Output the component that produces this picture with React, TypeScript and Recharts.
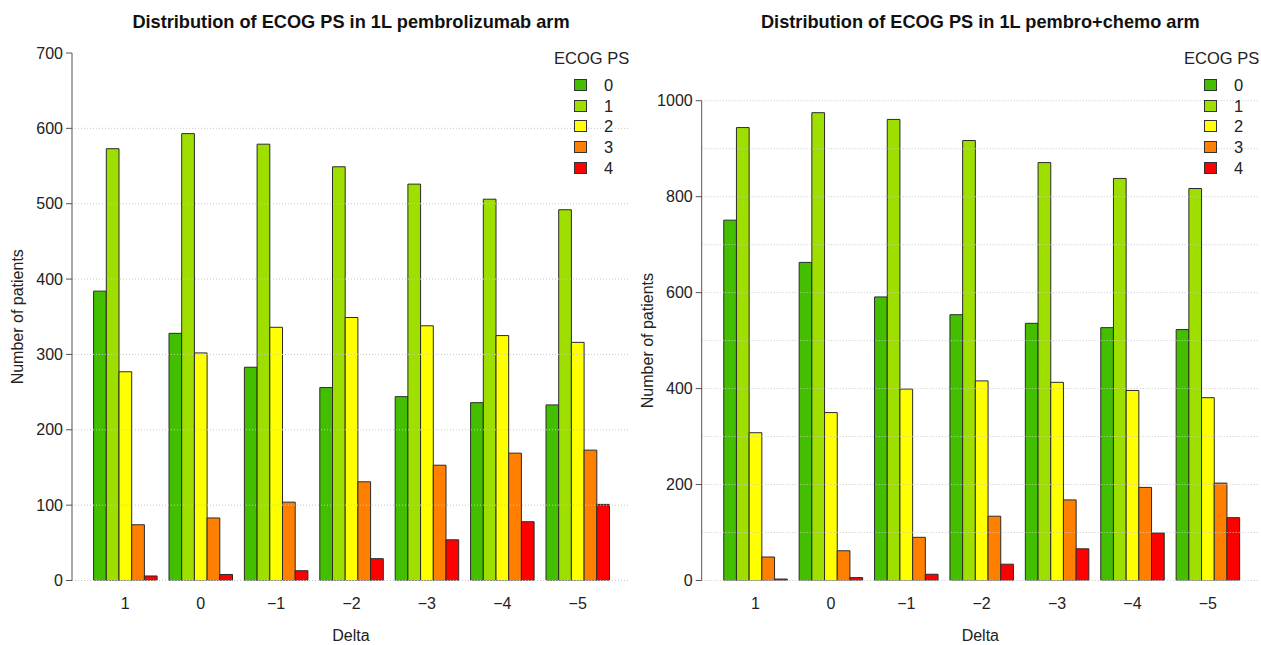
import React from 'react';
import { BarChart, Bar, XAxis, YAxis, ReferenceLine } from 'recharts';

// ---- data ----
const deltaLabels = ['1', '0', '\u22121', '\u22122', '\u22123', '\u22124', '\u22125'];
const ecogLevels = ['0', '1', '2', '3', '4'];
const ecogColors = ['#43BF00', '#9FDF00', '#FFFF00', '#FF8000', '#FF0000'];

const pembroEcog0 = [384, 328, 283, 256, 244, 236, 233];
const pembroEcog1 = [573, 593, 579, 549, 526, 506, 492];
const pembroEcog2 = [277, 302, 336, 349, 338, 325, 316];
const pembroEcog3 = [74, 83, 104, 131, 153, 169, 173];
const pembroEcog4 = [6, 8, 13, 29, 54, 78, 101];

const chemoEcog0 = [751, 663, 591, 554, 536, 527, 523];
const chemoEcog1 = [944, 975, 961, 917, 871, 838, 817];
const chemoEcog2 = [308, 350, 399, 416, 413, 396, 381];
const chemoEcog3 = [49, 62, 90, 134, 168, 194, 203];
const chemoEcog4 = [3, 6, 13, 34, 66, 99, 131];

const pembroTicks = [0, 100, 200, 300, 400, 500, 600, 700];
const pembroGrid = [0, 100, 200, 300, 400, 500, 600];
const chemoTicks = [0, 200, 400, 600, 800, 1000];
const chemoGrid = [0, 100, 200, 300, 400, 500, 600, 700, 800, 900, 1000];

const pembroTitle = 'Distribution of ECOG PS in 1L pembrolizumab arm';
const chemoTitle = 'Distribution of ECOG PS in 1L pembro+chemo arm';

const buildRows = (series: number[][]) =>
  deltaLabels.map((d, i) => {
    const row: Record<string, string | number> = { delta: d };
    ecogLevels.forEach((lvl, k) => {
      row['e' + lvl] = series[k][i];
    });
    return row;
  });

const pembroData = buildRows([pembroEcog0, pembroEcog1, pembroEcog2, pembroEcog3, pembroEcog4]);
const chemoData = buildRows([chemoEcog0, chemoEcog1, chemoEcog2, chemoEcog3, chemoEcog4]);

const FONT = '"Liberation Sans", Arial, Helvetica, sans-serif';
const TEXT = '#222';
const AXIS = '#555';
const FS = 16;

type PanelProps = {
  data: Record<string, string | number>[];
  title: string;
  ticks: number[];
  grid: number[];
  yMax: number;
  left: number;
  width: number;
  top: number;
  right: number;
  yWidth: number;
  padL: number;
  padR: number;
};

const LegendBox = () => (
  <div style={{ position: 'absolute', left: 554, top: 48, fontFamily: FONT, color: TEXT }}>
    <div style={{ fontSize: 16.5, lineHeight: '20px', whiteSpace: 'nowrap' }}>ECOG PS</div>
    {ecogLevels.map((lvl, k) => (
      <div key={lvl} style={{ position: 'absolute', top: 31 + k * 20.7, left: 0, height: 20, width: 90 }}>
        <div
          style={{
            position: 'absolute',
            left: 20,
            top: 0,
            width: 11,
            height: 10,
            background: ecogColors[k],
            border: '1px solid #333',
          }}
        />
        <div style={{ position: 'absolute', left: 50, top: -4, fontSize: 16.5, lineHeight: '20px' }}>{lvl}</div>
      </div>
    ))}
  </div>
);

const Panel = (p: PanelProps) => {
  const height = 645;
  const plotLeft = p.yWidth;
  const plotRight = p.width - p.right;
  return (
    <div style={{ position: 'absolute', left: p.left, top: 0, width: p.width, height }}>
      <div
        style={{
          position: 'absolute',
          left: 0,
          width: plotLeft + plotRight,
          top: 11,
          textAlign: 'center',
          fontFamily: FONT,
          fontWeight: 'bold',
          fontSize: 18.2,
          lineHeight: '22px',
          color: '#111',
          whiteSpace: 'nowrap',
        }}
      >
        {p.title}
      </div>
      <BarChart
        width={p.width}
        height={height}
        data={p.data}
        margin={{ top: p.top, right: p.right, bottom: 0, left: 0 }}
        barGap={0}
        barCategoryGap={0}
      >
        {p.grid.map((v) => (
          <ReferenceLine key={v} y={v} stroke="#c8c8c8" strokeDasharray="1 2" strokeWidth={1} ifOverflow="extendDomain" />
        ))}
        <XAxis
          dataKey="delta"
          height={645 - 580.5}
          axisLine={false}
          tickLine={false}
          tickSize={13}
          tickMargin={4}
          padding={{ left: p.padL, right: p.padR }}
          tick={{ fill: TEXT, fontSize: FS, fontFamily: FONT }}
          interval={0}
          label={{ value: 'Delta', position: 'insideBottom', offset: 4, fill: TEXT, fontSize: FS, fontFamily: FONT }}
        />
        <YAxis
          width={p.yWidth}
          domain={[0, p.yMax]}
          ticks={p.ticks}
          interval={0}
          allowDataOverflow
          axisLine={{ stroke: AXIS }}
          tickLine={{ stroke: AXIS }}
          tickSize={6}
          tickMargin={3}
          tick={{ fill: TEXT, fontSize: FS, fontFamily: FONT }}
          label={{
            value: 'Number of patients',
            angle: -90,
            position: 'insideLeft',
            offset: 17,
            fill: TEXT,
            fontSize: FS,
            fontFamily: FONT,
            style: { textAnchor: 'middle' },
          }}
        />
        {ecogLevels.map((lvl, k) => (
          <Bar
            key={lvl}
            dataKey={'e' + lvl}
            name={lvl}
            fill={ecogColors[k]}
            stroke="#2b2b2b"
            strokeWidth={1}
            barSize={12.7}
            isAnimationActive={false}
          />
        ))}
      </BarChart>
      <LegendBox />
    </div>
  );
};

export default function App() {
  return (
    <div
      style={{
        position: 'fixed',
        left: 0,
        top: 0,
        width: 1261,
        height: 645,
        background: '#fff',
        overflow: 'hidden',
      }}
    >
      <Panel
        data={pembroData}
        title={pembroTitle}
        ticks={pembroTicks}
        grid={pembroGrid}
        yMax={700}
        left={0}
        width={640}
        top={53}
        right={10}
        yWidth={72}
        padL={15.6}
        padR={14.6}
      />
      <Panel
        data={chemoData}
        title={chemoTitle}
        ticks={chemoTicks}
        grid={chemoGrid}
        yMax={1000}
        left={630}
        width={631}
        top={100.7}
        right={2}
        yWidth={71.7}
        padL={16.05}
        padR={13.45}
      />
    </div>
  );
}
